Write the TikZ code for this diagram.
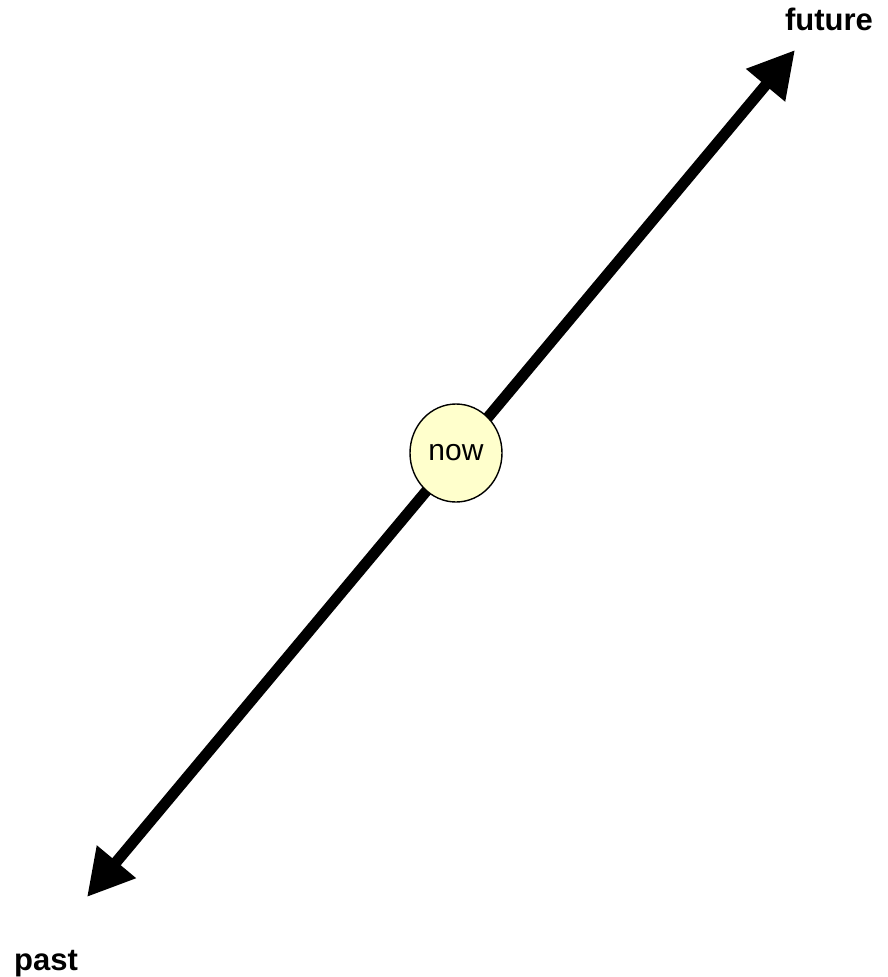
\documentclass[tikz,border=0pt]{standalone}
\usepackage{fontspec}
\setmainfont{Liberation Sans}
\usetikzlibrary{arrows.meta,backgrounds,shapes.geometric}
\definecolor{nowfill}{HTML}{FFFFCC}
\tikzset{
  timearr/.style={{Triangle[length=46pt, width=48pt]}-{Triangle[length=46pt, width=48pt]}, line width=11pt},
  nowdot/.style={ellipse, draw, line width=1.4pt, fill=nowfill, minimum width=92pt, minimum height=98pt, inner sep=0pt, font=\fontsize{30}{36}\selectfont},
  endlbl/.style={font=\fontsize{31}{37}\selectfont\bfseries, anchor=base},
}

\begin{document}
\begin{tikzpicture}[x=1pt, y=-1pt]
  \useasboundingbox (0,0) rectangle (888,977);
  \coordinate (pastend) at (87,897);
  \coordinate (futend) at (795,50);
  \node[nowdot] (now) at (456,453) {now};
  \node[endlbl] (past) at (46,970) {past};
  \node[endlbl] (future) at (829,30) {future};
  \begin{scope}[on background layer]
    \draw[timearr] (pastend) -- (futend);
  \end{scope}
\end{tikzpicture}
\end{document}
